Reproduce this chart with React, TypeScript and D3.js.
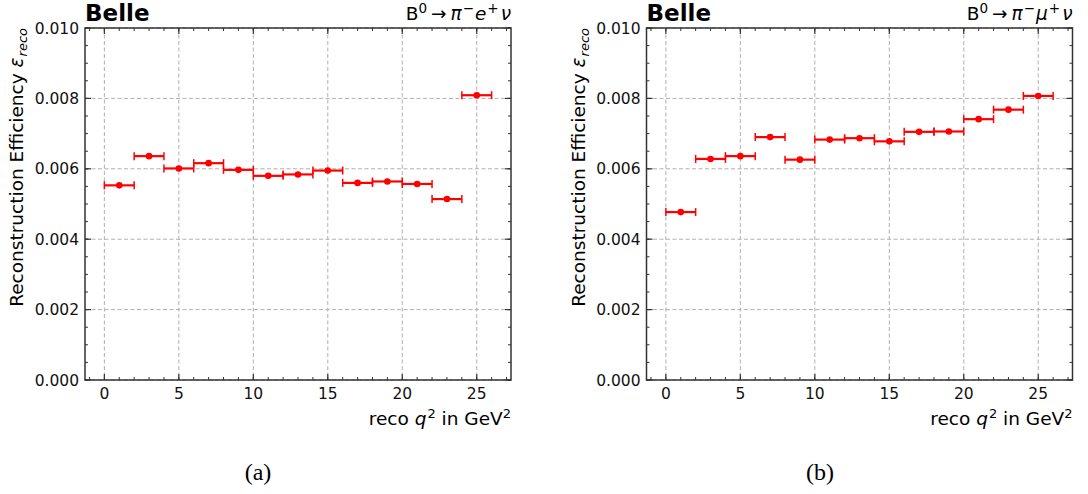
import React from "react";
import * as d3 from "d3";

const binCenters = [1, 3, 5, 7, 9, 11, 13, 15, 17, 19, 21, 23, 25];
const binHalfWidth = 1;
const effElectron = [0.00553, 0.00636, 0.00601, 0.00616, 0.00597, 0.0058, 0.00584, 0.00595, 0.0056, 0.00564, 0.00557, 0.00514, 0.00809];
const effMuon = [0.00477, 0.00628, 0.00636, 0.0069, 0.00626, 0.00683, 0.00687, 0.00678, 0.00705, 0.00706, 0.00741, 0.00768, 0.00807];
const xTicks = [0, 5, 10, 15, 20, 25];
const yTicks = [0, 0.002, 0.004, 0.006, 0.008, 0.01];
const xMinorTicks = d3.range(-1, 28, 1);
const yMinorTicks = d3.range(0, 0.01001, 0.0005);

const FONT = "DejaVu Sans, sans-serif";
const RED = "#ff0000";

type PanelProps = {
  left: number;
  values: number[];
  lepton: string;
  caption: string;
  captionX: number;
};

function Panel({ left, values, lepton, caption, captionX }: PanelProps) {
  const width = 426;
  const top = 28;
  const bottom = 380;
  const x = d3.scaleLinear().domain([-1.3, 27.3]).range([left, left + width]);
  const y = d3.scaleLinear().domain([0, 0.01]).range([bottom, top]);
  const right = left + width;
  const axisColor = "#333";
  return (
    <g>
      {xTicks.map((t) => (
        <line key={"gx" + t} x1={x(t)} x2={x(t)} y1={top} y2={bottom} stroke="#b0b0b0" strokeWidth={1} strokeDasharray="4,2.5" />
      ))}
      {yTicks.map((t) => (
        <line key={"gy" + t} x1={left} x2={right} y1={y(t)} y2={y(t)} stroke="#b0b0b0" strokeWidth={1} strokeDasharray="4,2.5" />
      ))}
      {xMinorTicks.filter((t) => x(t) > left + 1 && x(t) < right - 1).map((t) => (
        <g key={"mx" + t}>
          <line x1={x(t)} x2={x(t)} y1={bottom} y2={bottom - 3} stroke={axisColor} strokeWidth={1} />
          <line x1={x(t)} x2={x(t)} y1={top} y2={top + 3} stroke={axisColor} strokeWidth={1} />
        </g>
      ))}
      {yMinorTicks.map((t, i) => (
        <g key={"my" + i}>
          <line x1={left} x2={left + 3} y1={y(t)} y2={y(t)} stroke={axisColor} strokeWidth={1} />
          <line x1={right} x2={right - 3} y1={y(t)} y2={y(t)} stroke={axisColor} strokeWidth={1} />
        </g>
      ))}
      {xTicks.map((t) => (
        <g key={"tx" + t}>
          <line x1={x(t)} x2={x(t)} y1={bottom} y2={bottom - 6} stroke={axisColor} strokeWidth={1.2} />
          <line x1={x(t)} x2={x(t)} y1={top} y2={top + 6} stroke={axisColor} strokeWidth={1.2} />
          <text x={x(t)} y={399} textAnchor="middle" fontFamily={FONT} fontSize={15.5} fill="#111">
            {t}
          </text>
        </g>
      ))}
      {yTicks.map((t) => (
        <g key={"ty" + t}>
          <line x1={left} x2={left + 6} y1={y(t)} y2={y(t)} stroke={axisColor} strokeWidth={1.2} />
          <line x1={right} x2={right - 6} y1={y(t)} y2={y(t)} stroke={axisColor} strokeWidth={1.2} />
          <text x={left - 6} y={y(t)} dy="0.36em" textAnchor="end" fontFamily={FONT} fontSize={15.5} fill="#111">
            {t.toFixed(3)}
          </text>
        </g>
      ))}
      <rect x={left} y={top} width={width} height={bottom - top} fill="none" stroke={axisColor} strokeWidth={1.5} />
      {values.map((v, i) => {
        const c = binCenters[i];
        const x0 = x(c - binHalfWidth);
        const x1 = x(c + binHalfWidth);
        const yy = y(v);
        return (
          <g key={"d" + i}>
            <line x1={x0} x2={x1} y1={yy} y2={yy} stroke={RED} strokeWidth={2.2} />
            <line x1={x0} x2={x0} y1={yy - 4} y2={yy + 4} stroke={RED} strokeWidth={1.5} />
            <line x1={x1} x2={x1} y1={yy - 4} y2={yy + 4} stroke={RED} strokeWidth={1.5} />
            <circle cx={x(c)} cy={yy} r={3.3} fill={RED} />
          </g>
        );
      })}
      <text x={left} y={21} fontFamily={FONT} fontSize={23} fontWeight="bold" fill="#000">
        Belle
      </text>
      <text x={right} y={20} textAnchor="end" fontFamily={FONT} fontSize={18.5} fill="#000">
        <tspan>B</tspan>
        <tspan dy={-7} fontSize={13.5}>0</tspan>
        <tspan dy={7} dx={4}>→</tspan>
        <tspan dx={4} fontStyle="italic">π</tspan>
        <tspan dy={-7} dx={1} fontSize={13.5}>−</tspan>
        <tspan dy={7} dx={1} fontStyle="italic">{lepton === "e" ? "e" : "μ"}</tspan>
        <tspan dy={-7} dx={1} fontSize={13.5}>+</tspan>
        <tspan dy={7} dx={2} fontStyle="italic">ν</tspan>
      </text>
      <text x={right} y={425} textAnchor="end" fontFamily={FONT} fontSize={18.5} fill="#000">
        <tspan>reco </tspan>
        <tspan fontStyle="italic">q</tspan>
        <tspan dy={-7} dx={1} fontSize={13}>2</tspan>
        <tspan dy={7}> in GeV</tspan>
        <tspan dy={-7} fontSize={13}>2</tspan>
      </text>
      <text
        transform={`translate(${left - 62},${top}) rotate(-90)`}
        textAnchor="end"
        fontFamily={FONT}
        fontSize={18.5}
        fill="#000"
      >
        <tspan>Reconstruction Efficiency </tspan>
        <tspan fontStyle="italic">ε</tspan>
        <tspan dy={4} dx={1} fontSize={13} fontStyle="italic">reco</tspan>
      </text>
      <text x={captionX} y={480} textAnchor="middle" fontFamily="Liberation Serif, serif" fontSize={24} fill="#000">
        {caption}
      </text>
    </g>
  );
}

export default function App() {
  return (
    <div style={{ position: "absolute", left: 0, top: 0 }}>
      <svg width={1088} height={494} viewBox="0 0 1088 494" style={{ display: "block", background: "#fff" }}>
        <rect x={0} y={0} width={1088} height={494} fill="#fff" />
        <Panel left={85} values={effElectron} lepton="e" caption="(a)" captionX={258} />
        <Panel left={646.5} values={effMuon} lepton="mu" caption="(b)" captionX={820} />
      </svg>
    </div>
  );
}
